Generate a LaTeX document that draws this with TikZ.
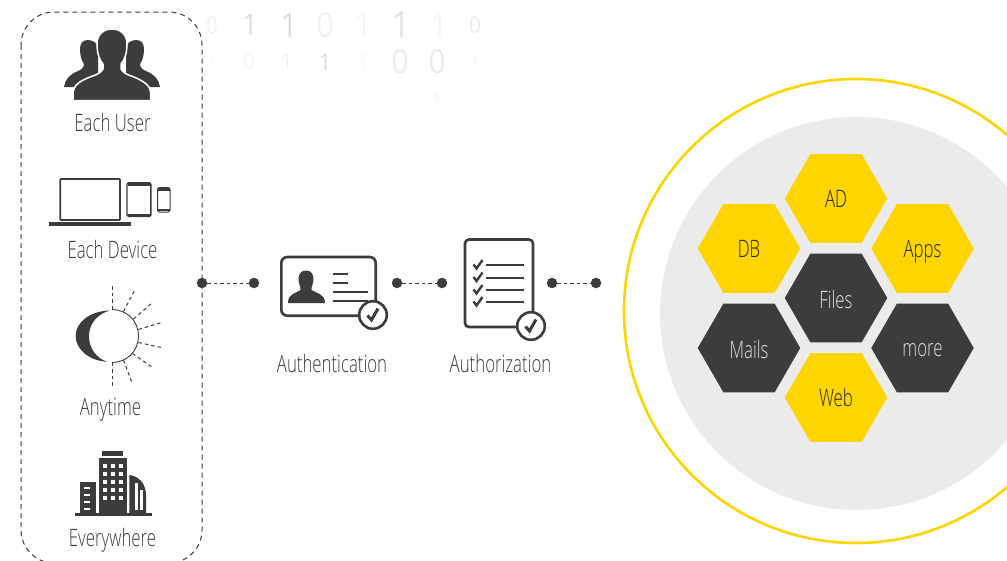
\documentclass[tikz,border=0pt]{standalone}
\usepackage{fontspec}
\setmainfont{Open Sans Light}[FakeStretch=0.70]
\newfontfamily\bitfont{Open Sans}[FakeStretch=0.9]
\usetikzlibrary{shapes.geometric}
\definecolor{darkgrey}{HTML}{3C3C3B}
\definecolor{hexyellow}{HTML}{FFD500}
\definecolor{ringgrey}{HTML}{EBEBEB}
\tikzset{
  label/.style={text=darkgrey,font=\fontsize{24}{26}\selectfont,inner sep=0pt,anchor=base},
  bit/.style={inner sep=0pt},
  hexcell/.style={regular polygon,regular polygon sides=6,minimum size=102.5pt,inner sep=0pt,font=\fontsize{24}{26}\selectfont,text height=17.6pt,text depth=0pt},
  hexyel/.style={hexcell,fill=hexyellow,text=black!85},
  hexdark/.style={hexcell,fill=darkgrey,text=white!88!black},
  dot/.style={circle,fill=darkgrey,minimum size=10.5pt,inner sep=0pt},
  dotline/.style={darkgrey,line width=1pt,dash pattern=on 3.5pt off 3pt},
  icon/.style={darkgrey,line width=2.6pt},
  checkbadge/.pic={
    \draw[icon,fill=white] (0,0) circle (13.8);
    \draw[darkgrey,line width=3pt] (-5.5,0.5)--(-1.5,5)--(5,-6.5);
  },
  tick/.pic={
    \draw[darkgrey,line width=2.4pt] (-4.5,-0.5)--(-1.5,3.5)--(4.5,-5);
  }
}
\begin{document}
\begin{tikzpicture}[x=1pt,y=-1pt]
  \useasboundingbox[fill=white] (0,0) rectangle (1007,560);

  % binary digits behind
  \foreach \px/\dg/\sz/\gr in {175/1/8/3,212/0/23/5,250/1/30/13,289/1/34/13,325/0/34/6,363/1/34/4,401/1/36/11,439/1/34/4,475/0/23/7,512/0/8/6}
    \node[bit,text=black!\gr,font=\bitfont\fontsize{\sz}{\sz}\selectfont] at (\px,25) (bita\px) {\dg};
  \foreach \px/\dg/\sz/\gr in {174/1/6/2,212/0/10/5,249/0/22/4,287/1/22/6,325/1/23/14,363/1/22/3,400/0/33/7,437/0/33/9,475/1/16/4,512/0/6/3}
    \node[bit,text=black!\gr,font=\bitfont\fontsize{\sz}{\sz}\selectfont] at (\px,62) (bitb\px) {\dg};
  \foreach \px/\dg/\sz/\gr in {212/1/5/2,249/1/6/2,287/1/6/3,325/1/7/3,363/1/8/5,400/1/8/5,437/0/9/9,475/1/6/3,512/1/5/2}
    \node[bit,text=black!\gr,font=\bitfont\fontsize{\sz}{\sz}\selectfont] at (\px,98) (bitc\px) {\dg};

  % dashed frame
  \draw[darkgrey,line width=1pt,dash pattern=on 5pt off 4pt,rounded corners=33pt] (21,12) rectangle (202,563);

  % rings
  \fill[ringgrey] (856.5,313.5) circle (196.5);
  \draw[hexyellow,line width=2.6pt] (856,311) circle (232);

  % hexagons
  \node[hexyel] at (836,198.5) (ad) {AD};
  \node[hexyel] at (749,248.5) (db) {DB};
  \node[hexyel] at (922.5,248.5) (apps) {Apps};
  \node[hexdark,text height=20pt] at (836,298) (files) {Files};
  \node[hexdark,text height=20pt] at (749,348) (mails) {Mails};
  \node[hexdark,text height=16pt] at (922.5,348) (more) {more};
  \node[hexyel] at (836,397.5) (web) {Web};

  % users
  \foreach \sx in {1,-1}
    \fill[darkgrey,shift={(112,0)},xscale=\sx] (-48,87) .. controls (-47,80) and (-43,75) .. (-36,72) .. controls (-31,70) and (-28,68) .. (-28,64) .. controls (-31,60) and (-32,54) .. (-32,49) .. controls (-32,43) and (-29,40) .. (-24,40) .. controls (-19,40) and (-14,43) .. (-14,50) -- (-14,80) -- (-30,87) -- cycle;
  \filldraw[darkgrey,draw=white,line width=1.5pt] (73,100.5) -- (73,92) .. controls (74,85) and (80,81) .. (90,77) .. controls (96,75) and (101,73) .. (103,69) -- (103,64) .. controls (99,60) and (97,52) .. (97,44) .. controls (97,34) and (104,29) .. (112,29) .. controls (120,29) and (127,34) .. (127,44) .. controls (127,52) and (125,60) .. (121,64) -- (121,69) .. controls (123,73) and (128,75) .. (134,77) .. controls (143,81) and (150,85) .. (150.7,92) -- (150.7,100.5) -- cycle;
  \node[label] at (112.5,131.7) (eachuser) {Each User};

  % devices
  \draw[darkgrey,line width=1.7pt,rounded corners=0.8pt] (60.3,179) rectangle (120,220);
  \fill[darkgrey] (48.7,222) rectangle (130.7,225.7);
  \draw[darkgrey,line width=1.4pt,rounded corners=1.5pt] (127,182.7) rectangle (150.8,216.5);
  \draw[darkgrey,line width=2.6pt] (127.5,184.5)--(150.5,184.5);
  \draw[darkgrey,line width=2.6pt] (127.5,215)--(150.5,215);
  \draw[darkgrey,line width=1pt,rounded corners=1.5pt] (157.5,187.5) rectangle (170,212);
  \draw[darkgrey,line width=2.4pt] (158,189.5)--(169.5,189.5);
  \draw[darkgrey,line width=2.4pt] (158,210)--(169.5,210);
  \node[label] at (112.5,258) (eachdevice) {Each Device};

  % moon and sun
  \fill[darkgrey] (110,310.5) .. controls (90,311) and (75.7,322) .. (75.7,336) .. controls (75.7,350) and (90,361) .. (107,361.7) .. controls (96,358) and (89,348) .. (89,336) .. controls (89,324) and (97,314) .. (110,310.5) -- cycle;
  \draw[darkgrey,line width=0.9pt] (112,309.5) .. controls (127,309.5) and (138.5,321) .. (138.5,336) .. controls (138.5,351) and (127,362.5) .. (112,362.5);
  \foreach \xa/\ya/\xb/\yb in {112/309/112/285,123.5/311.5/135/289.5,133.5/319/151.5/303.5,138.5/329.5/161.5/322.5,138.5/342.5/163.5/348,132.5/353.5/152.5/367.5,123.5/360/132.5/384,112/362.5/112/387.5}
    \draw[darkgrey,line width=1pt,dash pattern=on 3.5pt off 3pt] (\xa,\ya)--(\xb,\yb);
  \node[label] at (110.5,415) (anytime) {Anytime};

  % buildings
  \fill[darkgrey] (75,513) rectangle (152,515.5);
  \fill[darkgrey] (102,451) rectangle (123,456);
  \fill[darkgrey] (98.7,458) rectangle (126.7,513);
  \foreach \wx in {102.7,110.7,118.7}
    \foreach \wy in {464,472,480,488,496}
      \fill[white] (\wx,\wy) rectangle +(4,3.6);
  \fill[darkgrey] (80,481.5) rectangle (96,513);
  \foreach \wy in {487,494,501,508}
    \fill[white] (84,\wy) rectangle +(6,1.6);
  \fill[darkgrey] (129.3,475) .. controls (139,476) and (146,484) .. (146,495) -- (146,513) -- (129.3,513) -- cycle;
  \fill[white] (135,483) rectangle (137.5,510);
  \fill[white] (140,490) rectangle (142.8,510);
  \node[label] at (112.5,546) (everywhere) {Everywhere};

  % id card
  \draw[icon,rounded corners=6pt] (281.3,257) rectangle (375.7,315.7);
  \fill[darkgrey] (306,270.5) .. controls (311,270.5) and (313.5,274) .. (313.5,279) .. controls (313.5,284) and (311,287) .. (311.5,290) .. controls (315,293) and (325,293) .. (325,303) -- (288,303) .. controls (288,293) and (297,293) .. (300.5,290) .. controls (301,287) and (298.5,284) .. (298.5,279) .. controls (298.5,274) and (301,270.5) .. (306,270.5) -- cycle;
  \draw[darkgrey,line width=2pt] (333,273.5)--(348,273.5);
  \draw[darkgrey,line width=2pt] (333,282.5)--(348,282.5);
  \draw[darkgrey,line width=2pt] (333,292)--(367.5,292);
  \draw[darkgrey,line width=2pt] (333,301)--(367.5,301);
  \pic at (373,315) {checkbadge};
  \node[label] at (332,372.7) (authn) {Authentication};

  % checklist
  \draw[icon,rounded corners=4pt] (465,239.5) rectangle (533,327);
  \foreach \ly in {265,277.5,290,302}{
    \draw[darkgrey,line width=2pt] (486,\ly)--(524,\ly);
    \pic at (478,\ly) {tick};
  }
  \pic at (531,326) {checkbadge};
  \node[label] at (500.5,372.7) (authz) {Authorization};

  % connectors
  \node[dot] at (202,283) (da) {};
  \node[dot] at (254,283) (db2) {};
  \node[dot] at (397,283) (dc) {};
  \node[dot] at (442,283) (dd) {};
  \node[dot] at (552,283) (de) {};
  \node[dot] at (596,283) (df) {};
  \draw[dotline] (da)--(db2);
  \draw[dotline] (dc)--(dd);
  \draw[dotline] (de)--(df);
\end{tikzpicture}
\end{document}
